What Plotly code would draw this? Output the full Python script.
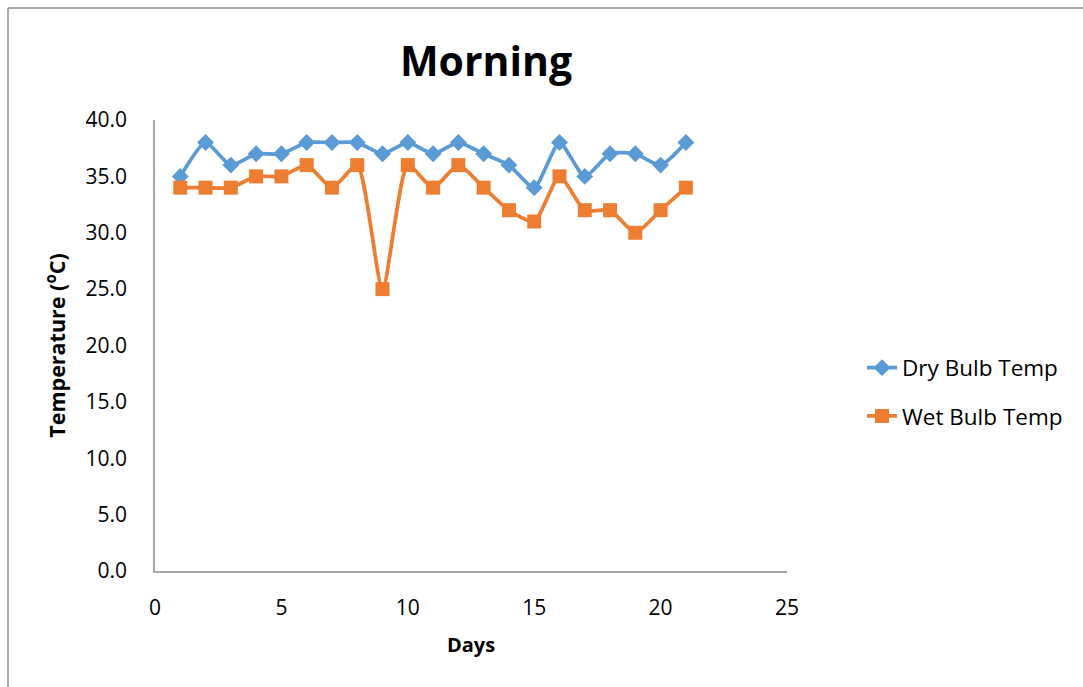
import plotly.graph_objects as go

days = list(range(1, 22))
dry_bulb = [35, 38, 36, 37, 37, 38, 38, 38, 37, 38, 37, 38, 37, 36, 34, 38, 35, 37, 37, 36, 38]
wet_bulb = [34, 34, 34, 35, 35, 36, 34, 36, 25, 36, 34, 36, 34, 32, 31, 35, 32, 32, 30, 32, 34]
y_ticks = [0, 5, 10, 15, 20, 25, 30, 35, 40]
x_ticks = [0, 5, 10, 15, 20, 25]

W, H = 1083, 687
L, R, T, B = 155, 1083 - 787, 120, 687 - 571
FONT = "Open Sans"

fig = go.Figure()
fig.add_trace(go.Scatter(
    x=days, y=dry_bulb, name="Dry Bulb Temp", mode="lines+markers", legendgroup="a",
    line=dict(color="#5B9BD5", width=3.75, shape="spline", smoothing=0.6),
    marker=dict(symbol="diamond", size=13, color="#5B9BD5"),
))
fig.add_trace(go.Scatter(
    x=days, y=wet_bulb, name="Wet Bulb Temp", mode="lines+markers", legendgroup="b",
    line=dict(color="#ED7D31", width=3.75, shape="spline", smoothing=0.6),
    marker=dict(symbol="square", size=14, color="#ED7D31"),
))

pw = W - L - R
ph = H - T - B
def px(xp):
    return (xp - L) / pw
def py(yp):
    return (H - B - yp) / ph

fig.update_layout(
    width=W, height=H,
    margin=dict(l=L, r=R, t=T, b=B),
    paper_bgcolor="white", plot_bgcolor="white",
    font=dict(family=FONT, size=21, color="#000000"),
    title=dict(text="<b>Morning</b>", x=px(486), xref="paper", xanchor="center",
               y=1 - 62 / H, yanchor="middle", font=dict(size=41, family=FONT)),
    xaxis=dict(range=[0, 25], tickvals=x_ticks, ticks="", showgrid=False, zeroline=False,
               showline=True, linecolor="#A6A6A6", linewidth=1.5, ticklabelstandoff=17,
               title=dict(text="<b>Days</b>", font=dict(size=20), standoff=18),
               tickfont=dict(size=21)),
    yaxis=dict(range=[0, 40], tickvals=y_ticks, tickformat=".1f", ticks="", showgrid=False,
               zeroline=False, showline=True, linecolor="#A6A6A6", linewidth=1.5,
               ticklabelstandoff=22,
               title=dict(text="<b>Temperature (<sup>o</sup>C)</b>", font=dict(size=21.5), standoff=14),
               tickfont=dict(size=21)),
    legend=dict(x=px(862), y=py(392), xanchor="left", yanchor="middle",
                font=dict(size=22.5), tracegroupgap=16, bgcolor="rgba(0,0,0,0)"),
    shapes=[
        dict(type="line", xref="paper", yref="paper", x0=px(8), x1=px(W + 5), y0=py(8), y1=py(8),
             line=dict(color="#8C8C8C", width=1.5)),
        dict(type="line", xref="paper", yref="paper", x0=px(8), x1=px(8), y0=py(8), y1=py(H + 5),
             line=dict(color="#8C8C8C", width=1.5)),
    ],
)

fig.write_html("out.html", config={"displayModeBar": False},
               post_script="document.body.style.margin='0';document.body.style.padding='0';")
